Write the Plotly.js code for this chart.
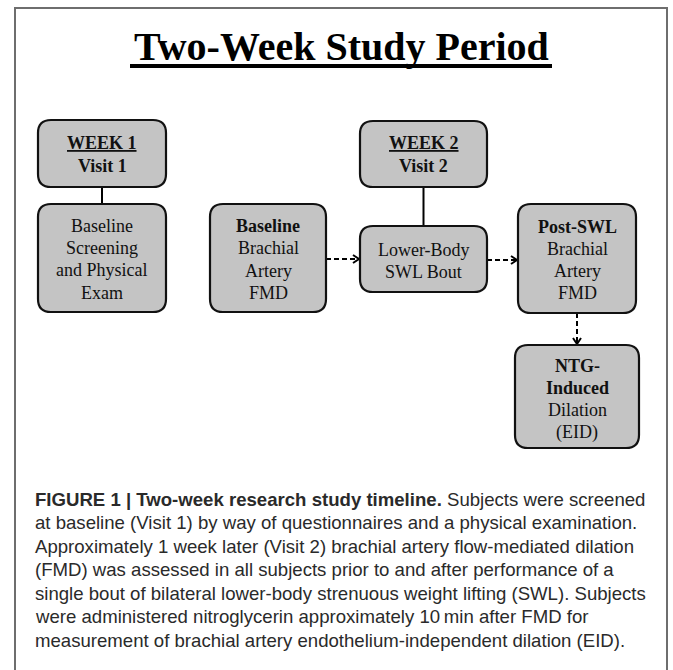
<!DOCTYPE html>
<html><head><meta charset="utf-8">
<script src="https://cdn.plot.ly/plotly-3.0.1.min.js"></script>
<style>html,body{margin:0;padding:0;background:#fff}</style>
</head><body><div id="chart" style="width:673px;height:670px"></div>
<script>
// ---- content ----
const titleText = "Two-Week Study Period";
const boxNames = ["week1", "screening", "baselineFMD", "week2", "swlBout", "postFMD", "eid"];
const boxLines = [
  ["<b><u>WEEK 1</u></b>", "<b>Visit 1</b>"],
  ["Baseline", "Screening", "and Physical", "Exam"],
  ["<b>Baseline</b>", "Brachial", "Artery", "FMD"],
  ["<b><u>WEEK 2</u></b>", "<b>Visit 2</b>"],
  ["Lower-Body", "SWL Bout"],
  ["<b>Post-SWL</b>", "Brachial", "Artery", "FMD"],
  ["<b>NTG-</b>", "<b>Induced</b>", "Dilation", "(EID)"]
];
const linkFrom = ["week1", "week2", "baselineFMD", "swlBout", "postFMD"];
const linkTo   = ["screening", "swlBout", "swlBout", "postFMD", "eid"];
const linkKind = ["solid-v", "solid-v", "dashed-h", "dashed-h", "dashed-v"];
const captionLines = [
  "<b>FIGURE 1 | Two-week research study timeline.</b> Subjects were screened",
  "at baseline (Visit 1) by way of questionnaires and a physical examination.",
  "Approximately 1 week later (Visit 2) brachial artery flow-mediated dilation",
  "(FMD) was assessed in all subjects prior to and after performance of a",
  "single bout of bilateral lower-body strenuous weight lifting (SWL). Subjects",
  "were administered nitroglycerin approximately 10\u2009min after FMD for",
  "measurement of brachial artery endothelium-independent dilation (EID)."
];

// ---- layout geometry (pixels) ----
const W = 673, H = 670;
const boxGeom = {            // x0, y0, x1, y1
  week1:       [38, 120, 166, 187],
  screening:   [38, 204, 166, 312],
  baselineFMD: [210, 204, 326, 312],
  week2:       [360, 121, 487, 187],
  swlBout:     [360, 226, 487, 292],
  postFMD:     [518, 204, 636, 313],
  eid:         [515, 345, 639, 448]
};
const lineYs = {
  week1:       [143, 166],
  screening:   [226, 248, 270, 293],
  baselineFMD: [226, 248, 271, 293],
  week2:       [143, 166],
  swlBout:     [250, 272],
  postFMD:     [227, 249, 271, 293],
  eid:         [366, 388, 410, 432]
};
const captionX = 33, captionY0 = 499, captionStep = 23.5;

const serif = "Liberation Serif, Times New Roman, serif";
const sans = "Liberation Sans, Arial, sans-serif";

function rr(x0, y0, x1, y1, r) {
  return `M${x0 + r},${y0} L${x1 - r},${y0} Q${x1},${y0} ${x1},${y0 + r} ` +
         `L${x1},${y1 - r} Q${x1},${y1} ${x1 - r},${y1} L${x0 + r},${y1} ` +
         `Q${x0},${y1} ${x0},${y1 - r} L${x0},${y0 + r} Q${x0},${y0} ${x0 + r},${y0} Z`;
}

const shapes = [];
const annotations = [];

// outer frame
shapes.push({type: "rect", xref: "x", yref: "y", x0: 15, x1: 667, y0: 8, y1: 700,
  line: {color: "#6e6e6e", width: 2}, fillcolor: "rgba(0,0,0,0)", layer: "below"});

// title
annotations.push({xref: "x", yref: "y", x: 341, y: 46, text: "<b>" + titleText + "</b>",
  showarrow: false, xanchor: "center", yanchor: "middle",
  font: {family: serif, size: 40, color: "#000"}});
shapes.push({type: "line", xref: "x", yref: "y", x0: 130, x1: 552, y0: 66, y1: 66,
  line: {color: "#000", width: 4}});

// links (drawn first, boxes on top)
linkFrom.forEach((a, i) => {
  const A = boxGeom[a], B = boxGeom[linkTo[i]], kind = linkKind[i];
  if (kind.endsWith("-v")) {
    const x = (A[0] + A[2]) / 2;
    shapes.push({type: "line", xref: "x", yref: "y", x0: x, x1: x, y0: A[3], y1: B[1] - (kind === "dashed-v" ? 1 : 0),
      line: {color: "#000", width: 2, dash: kind === "dashed-v" ? "5px,3px" : "solid"}});
    if (kind === "dashed-v") {
      const ty = B[1] - 1;
      shapes.push({type: "path", xref: "x", yref: "y",
        path: `M${x - 4},${ty - 6} L${x},${ty} L${x + 4},${ty - 6}`,
        line: {color: "#000", width: 2}});
    }
  } else {
    const y = (A[1] + A[3]) / 2 + 1;
    const tx = B[0] - 1;
    shapes.push({type: "line", xref: "x", yref: "y", x0: A[2], x1: tx, y0: y, y1: y,
      line: {color: "#000", width: 2, dash: "5px,3px"}});
    shapes.push({type: "path", xref: "x", yref: "y",
      path: `M${tx - 6},${y - 4} L${tx},${y} L${tx - 6},${y + 4}`,
      line: {color: "#000", width: 2}});
  }
});

// boxes and their text
boxNames.forEach((name, i) => {
  const g = boxGeom[name];
  shapes.push({type: "path", xref: "x", yref: "y", path: rr(g[0], g[1], g[2], g[3], 13),
    fillcolor: "#c4c4c4", line: {color: "#111", width: 2.2}});
  const cx = (g[0] + g[2]) / 2;
  boxLines[i].forEach((t, j) => {
    annotations.push({xref: "x", yref: "y", x: cx, y: lineYs[name][j], text: t,
      showarrow: false, xanchor: "center", yanchor: "middle",
      font: {family: serif, size: 18, color: "#111"}});
  });
});

// caption
captionLines.forEach((t, j) => {
  annotations.push({xref: "x", yref: "y", x: captionX, y: captionY0 + j * captionStep, text: t,
    showarrow: false, xanchor: "left", yanchor: "middle",
    font: {family: sans, size: 18.6, color: "#2a2a2a"}});
});

const data = [{x: [], y: [], type: "scatter", mode: "markers", hoverinfo: "skip", showlegend: false}];
const layout = {
  width: W, height: H, margin: {l: 0, r: 0, t: 0, b: 0},
  paper_bgcolor: "#fff", plot_bgcolor: "#fff", showlegend: false,
  xaxis: {range: [0, W], visible: false, fixedrange: true},
  yaxis: {range: [H, 0], visible: false, fixedrange: true},
  shapes, annotations
};
Plotly.newPlot("chart", data, layout, {displayModeBar: false, staticPlot: true});
</script>
</body></html>
